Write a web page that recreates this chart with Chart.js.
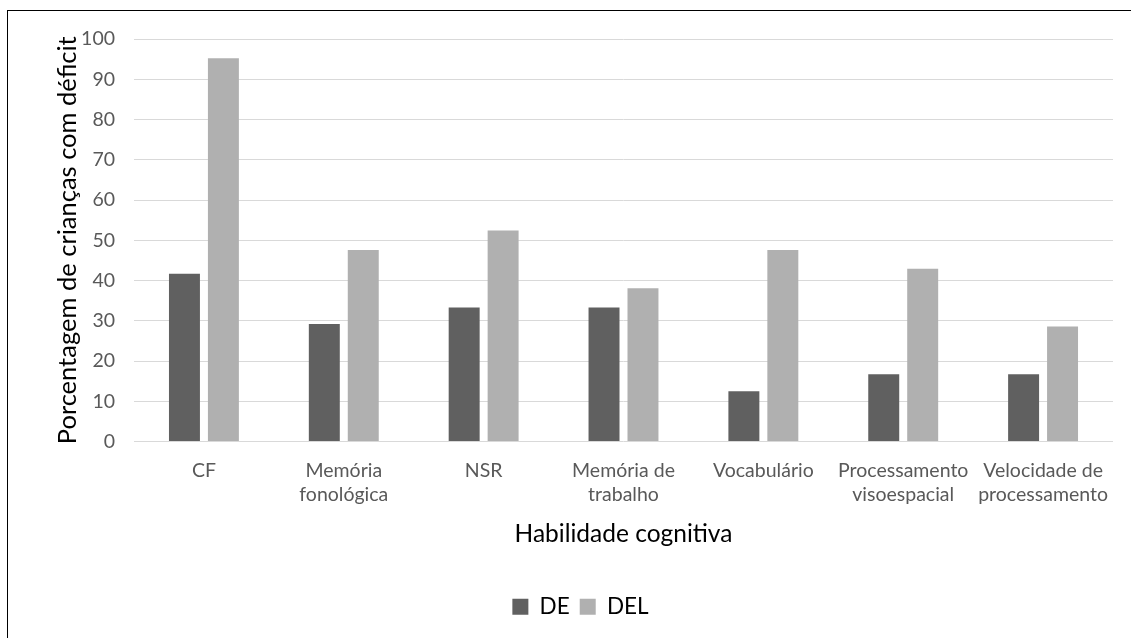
<!DOCTYPE html>
<html>
<head>
<meta charset="utf-8">
<script src="https://cdn.jsdelivr.net/npm/chart.js@4/dist/chart.umd.min.js"></script>
<style>
  html, body { margin: 0; padding: 0; background: #fff; }
  #wrap { position: relative; width: 1131px; height: 638px; overflow: hidden; }
  #frame { position: absolute; left: 7px; top: 10px; width: 1200px; height: 700px; border: 1px solid #000; box-sizing: border-box; }
  #myChart { position: absolute; left: 0; top: 0; }
</style>
</head>
<body>
<div id="wrap">
  <div id="frame"></div>
  <canvas id="myChart" width="1131" height="638"></canvas>
</div>
<script>
const categories = [
  "CF",
  ["Memória", "fonológica"],
  "NSR",
  ["Memória de", "trabalho"],
  "Vocabulário",
  ["Processamento", "visoespacial"],
  ["Velocidade de", "processamento"]
];
const deValues = [41.7, 29.2, 33.3, 33.3, 12.5, 16.7, 16.7];
const delValues = [95.2, 47.6, 52.4, 38.1, 47.6, 42.9, 28.6];
const yTicks = [0, 10, 20, 30, 40, 50, 60, 70, 80, 90, 100];

const font = "Lato, 'Open Sans', sans-serif";

new Chart(document.getElementById("myChart").getContext("2d"), {
  type: "bar",
  data: {
    labels: categories,
    datasets: [
      { label: "DE", data: deValues, backgroundColor: "#606060" },
      { label: "DEL", data: delValues, backgroundColor: "#b0b0b0" }
    ]
  },
  options: {
    responsive: false,
    animation: false,
    categoryPercentage: 0.557,
    barPercentage: 0.795,
    layout: { padding: { left: 48, right: 18, top: 39, bottom: 10 } },
    plugins: {
      legend: {
        position: "bottom",
        labels: {
          font: { family: font, size: 22.5 },
          color: "#000",
          boxWidth: 16,
          boxHeight: 16,
          padding: 10
        }
      },
      tooltip: { enabled: false }
    },
    scales: {
      x: {
        afterFit: axis => { axis.height = 144; },
        grid: { display: false, drawTicks: false },
        border: { display: false },
        ticks: {
          font: { family: font, size: 19.5 },
          color: "#595959",
          maxRotation: 0,
          autoSkip: false,
          padding: 18
        },
        title: {
          display: true,
          text: "Habilidade cognitiva",
          font: { family: font, size: 24.5 },
          color: "#000",
          padding: { top: 0, bottom: 37 }
        }
      },
      y: {
        min: 0,
        max: 100,
        afterFit: axis => { axis.width = 86; },
        afterBuildTicks: axis => { axis.ticks = yTicks.map(v => ({ value: v })); },
        grid: { color: "#d9d9d9", lineWidth: 1, drawTicks: false },
        border: { display: false },
        ticks: {
          font: { family: font, size: 19.5 },
          color: "#595959",
          padding: 19
        },
        title: {
          display: true,
          text: "Porcentagem de crianças com déficit",
          font: { family: font, size: 25.5 },
          color: "#000",
          padding: { top: 4, bottom: 0 }
        }
      }
    }
  }
});
</script>
</body>
</html>
